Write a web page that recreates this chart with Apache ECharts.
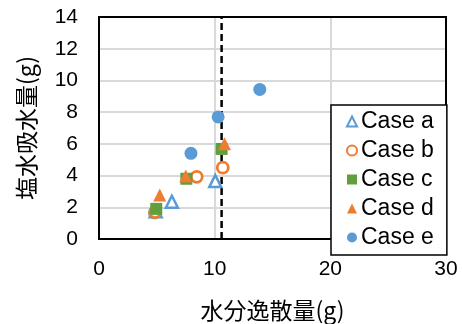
<!DOCTYPE html>
<html><head><meta charset="utf-8">
<script src="https://cdn.jsdelivr.net/npm/echarts@6/dist/echarts.min.js"></script>
<style>html,body{margin:0;padding:0;background:#fff}#c{width:462px;height:324px}</style>
</head><body><div id="c"></div>
<script>
const caseA = [[4.9, 1.75], [6.3, 2.35], [10.05, 3.65]];
const caseB = [[4.85, 1.7], [8.45, 3.92], [10.7, 4.5]];
const caseC = [[4.95, 1.9], [7.55, 3.8], [10.6, 5.68]];
const caseD = [[5.25, 2.77], [7.5, 3.98], [10.85, 6.0]];
const caseE = [[4.8, 1.65], [7.95, 5.4], [10.3, 7.7], [13.9, 9.43]];
const dashLine = [[10.6, 0], [10.6, 14]];
const xTicks = [0, 10, 20, 30];
const yTicks = [0, 2, 4, 6, 8, 10, 12, 14];

const BLUE = '#5b9bd5', ORANGE = '#ed7d31', GREEN = '#5f9f3c';
const FONT = '"Liberation Sans", Arial, sans-serif';
const CJK = '"Noto Sans CJK JP", "Noto Sans CJK SC", sans-serif';

const xMin = xTicks[0], xMax = xTicks[xTicks.length - 1];
const yMin = yTicks[0], yMax = yTicks[yTicks.length - 1];
// top and right edges of the plot frame, drawn through the axes
const frameTop = [[xMin, yMax], [xMax, yMax]];
const frameRight = [[xMax, yMax], [xMax, yMin]];

const chart = echarts.init(document.getElementById('c'), null, {renderer: 'canvas'});
chart.setOption({
  animation: false,
  backgroundColor: '#fff',
  grid: {left: 99, top: 17, right: 16, bottom: 85, outerBoundsMode: 'none', containLabel: false,
         show: true, borderColor: '#000', borderWidth: 2, backgroundColor: 'rgba(0,0,0,0)'},
  xAxis: {
    type: 'value', min: xMin, max: xMax, interval: 10,
    name: '水分逸散量(g)', nameLocation: 'middle', nameGap: 60,
    nameTextStyle: {fontFamily: CJK, fontSize: 23, color: '#000'},
    axisLine: {show: true, onZero: false, lineStyle: {color: '#000', width: 2}},
    axisTick: {show: false},
    axisLabel: {fontFamily: FONT, fontSize: 21, color: '#000', margin: 20},
    splitLine: {show: true, showMinLine: false, showMaxLine: false, lineStyle: {color: '#d9d9d9', width: 2}}
  },
  yAxis: {
    type: 'value', min: yMin, max: yMax, interval: 2,
    name: '塩水吸水量(g)', nameLocation: 'middle', nameGap: 61,
    nameTextStyle: {fontFamily: CJK, fontSize: 23, color: '#000'},
    axisLine: {show: true, onZero: false, lineStyle: {color: '#000', width: 2}},
    axisTick: {show: false},
    axisLabel: {fontFamily: FONT, fontSize: 21, color: '#000', margin: 21},
    splitLine: {show: true, showMinLine: false, showMaxLine: false, lineStyle: {color: '#d9d9d9', width: 2}}
  },
  legend: {
    orient: 'vertical', left: 331, top: 105,
    backgroundColor: '#fff', borderColor: '#000', borderWidth: 1.5,
    padding: [5, 13, 6, 15], itemGap: 6, itemWidth: 10, itemHeight: 10,
    textStyle: {fontFamily: FONT, fontSize: 23, color: '#000', padding: [0, 0, 0, -1]},
    data: [
      {name: 'Case a', icon: 'triangle'},
      {name: 'Case b', icon: 'circle'},
      {name: 'Case c', icon: 'rect'},
      {name: 'Case d', icon: 'triangle'},
      {name: 'Case e', icon: 'circle'}
    ],
    z: 10
  },
  series: [
    {type: 'line', data: frameTop, symbol: 'none', silent: true, z: 3, clip: false,
     lineStyle: {color: '#000', width: 2}},
    {type: 'line', data: frameRight, symbol: 'none', silent: true, z: 3, clip: false,
     lineStyle: {color: '#000', width: 2}},
    {type: 'line', data: dashLine, symbol: 'none', silent: true, z: 1,
     lineStyle: {color: '#000', width: 2.5, type: [7, 4]}},
    {name: 'Case e', type: 'scatter', data: caseE, symbol: 'circle', symbolSize: 13,
     itemStyle: {color: BLUE, opacity: 1}},
    {name: 'Case a', type: 'scatter', data: caseA, symbol: 'triangle', symbolSize: 12,
     itemStyle: {color: '#fff', borderColor: BLUE, borderWidth: 2.5, opacity: 1}},
    {name: 'Case b', type: 'scatter', data: caseB, symbol: 'circle', symbolSize: 11,
     itemStyle: {color: '#fff', borderColor: ORANGE, borderWidth: 2.8, opacity: 1}},
    {name: 'Case c', type: 'scatter', data: caseC, symbol: 'rect', symbolSize: 12,
     itemStyle: {color: GREEN, opacity: 1}},
    {name: 'Case d', type: 'scatter', data: caseD, symbol: 'triangle', symbolSize: 13,
     itemStyle: {color: ORANGE, opacity: 1}}
  ]
});
</script></body></html>
